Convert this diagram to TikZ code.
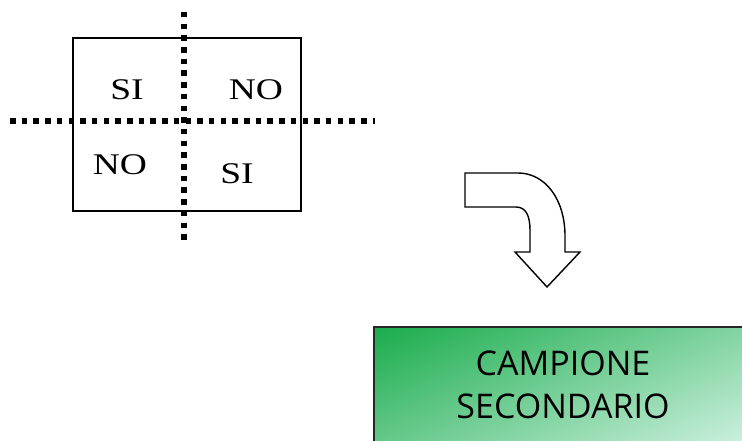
\documentclass[tikz,border=0pt]{standalone}
\usepackage{fontspec}
\setmainfont{Liberation Serif}
\newfontfamily\boxfont{Open Sans}
\definecolor{gdark}{RGB}{26,172,76}
\definecolor{glight}{RGB}{206,241,224}
\tikzset{
  dotline/.style={line width=5.5pt, dash pattern=on 5.5pt off 6.2pt},
  cell/.style={inner sep=0pt, anchor=base, font=\fontsize{30}{32}\selectfont},
  boxtxt/.style={inner sep=0pt, anchor=base, font=\boxfont\fontsize{34}{36}\selectfont},
}
\newcommand{\wide}[1]{\scalebox{1.25}[1]{#1}}
\begin{document}
\begin{tikzpicture}[x=1pt,y=-1pt]
\useasboundingbox (0,0) rectangle (742,441);
% table
\draw[line width=1.5pt] (73,38) rectangle (301,211);
\coordinate (hl) at (10,121);
\coordinate (hr) at (375,121);
\coordinate (vt) at (184,12);
\coordinate (vb) at (184,240);
\draw[dotline] (hl) -- (hr);
\draw[dotline] (vt) -- (vb);
\node[cell] (a) at (127,100) {\wide{SI}};
\node[cell] (b) at (256,100) {\wide{NO}};
\node[cell] (c) at (120,175) {\wide{NO}};
\node[cell] (d) at (237,183) {\wide{SI}};
% curved arrow
\draw[line width=1.4pt, line join=miter, fill=white]
  (465,173) -- (518,173)
  .. controls (545,173) and (565,199) .. (565,236)
  -- (565,252) -- (580,252) -- (547,287) -- (515,252) -- (530,252)
  -- (530,230)
  .. controls (530,216) and (526,207) .. (516,207)
  -- (465,207) -- cycle;
% green box
\begin{scope}
  \clip (374,327) rectangle (746,446);
  \begin{scope}[transform canvas={rotate around={-66:(374,327)}}]
    \shade[left color=gdark, right color=glight]
      (374,327-400) rectangle (374+260,327+400);
  \end{scope}
\end{scope}
\draw[line width=2pt, draw=black!85] (374,327) rectangle (746,446);
\node[boxtxt] (t1) at (563,375) {CAMPIONE};
\node[boxtxt] (t2) at (563,418) {SECONDARIO};
\end{tikzpicture}
\end{document}
